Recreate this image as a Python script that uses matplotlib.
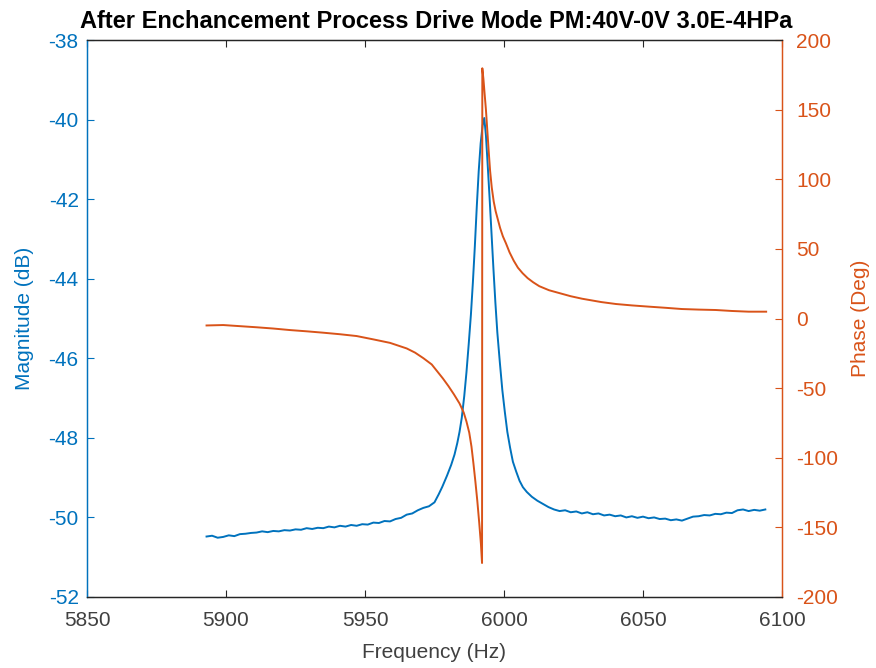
import matplotlib
matplotlib.use("Agg")
import matplotlib.pyplot as plt

plt.rcParams['font.family'] = ['Liberation Sans', 'DejaVu Sans']
plt.rcParams['axes.unicode_minus'] = False

# Magnitude response (dB) of the drive mode
freq_mag = [
    5893, 5895, 5897, 5899, 5901, 5903, 5905, 5907, 5909, 5911,
    5913, 5915, 5917, 5919, 5921, 5923, 5925, 5927, 5929, 5931,
    5933, 5935, 5937, 5939, 5941, 5943, 5945, 5947, 5949, 5951,
    5953, 5955, 5957, 5959, 5961, 5963, 5965, 5967, 5969, 5971,
    5973, 5975,
    5976.5, 5977.8, 5979.5, 5981.0, 5982.2, 5983.2, 5984.0, 5984.8, 5985.7, 5986.5,
    5987.3, 5988.1, 5988.8, 5989.5, 5990.2, 5990.9, 5991.6, 5992.3, 5992.9, 5993.5,
    5994.1, 5994.8, 5995.5, 5996.2, 5996.9, 5997.6, 5998.5, 5999.4, 6000.3, 6001.2,
    6002.2, 6003.2, 6004.4, 6005.6, 6006.8, 6008.2, 6010.0, 6012, 6014, 6016, 6018,
    6020, 6022, 6024, 6026, 6028, 6030, 6032, 6034, 6036, 6038,
    6040, 6042, 6044, 6046, 6048, 6050, 6052, 6054, 6056, 6058,
    6060, 6062, 6064, 6066, 6068, 6070, 6072, 6074, 6076, 6078,
    6080, 6082, 6084, 6086, 6088, 6090, 6092, 6094,
]
magnitude_db = [
    -50.48, -50.46, -50.51, -50.49, -50.45, -50.47, -50.42, -50.41, -50.39, -50.38,
    -50.35, -50.37, -50.34, -50.35, -50.32, -50.33, -50.30, -50.31, -50.27, -50.29,
    -50.26, -50.27, -50.23, -50.25, -50.21, -50.23, -50.19, -50.21, -50.17, -50.18,
    -50.13, -50.14, -50.09, -50.10, -50.04, -50.01, -49.93, -49.90, -49.82, -49.76,
    -49.72, -49.62,
    -49.42, -49.23, -48.95, -48.68, -48.42, -48.13, -47.85, -47.50, -46.95, -46.35,
    -45.65, -44.90, -44.10, -43.20, -42.20, -41.30, -40.60, -40.15, -39.96, -40.40,
    -41.10, -41.95, -42.85, -43.75, -44.60, -45.35, -46.10, -46.80, -47.35, -47.85,
    -48.25, -48.60, -48.85, -49.08, -49.24, -49.36, -49.48, -49.58, -49.66, -49.74, -49.80,
    -49.84, -49.82, -49.87, -49.85, -49.90, -49.87, -49.92, -49.90, -49.95, -49.93,
    -49.97, -49.95, -50.00, -49.97, -50.01, -49.98, -50.02, -50.00, -50.04, -50.03,
    -50.07, -50.05, -50.08, -50.03, -49.98, -49.97, -49.94, -49.95, -49.91, -49.92,
    -49.88, -49.89, -49.82, -49.80, -49.84, -49.81, -49.83, -49.80,
]

# Phase response (degrees); wraps from -180 to +180 at resonance
freq_phase = [
    5893, 5899, 5905, 5911, 5917, 5923, 5929, 5935, 5941, 5947,
    5953, 5959, 5965, 5968, 5971, 5974, 5976, 5978, 5980, 5982,
    5984, 5985.5, 5986.5, 5987.5, 5988.3, 5989.0, 5989.7, 5990.4, 5991.1, 5991.7,
    5992.1,
    5992.2, 5992.6, 5993.0, 5993.5, 5994.0, 5994.5, 5995.0, 5995.6, 5996.3, 5997.0,
    5997.8, 5998.6, 5999.6, 6000.7, 6002.0, 6003.5, 6005.0, 6006.7, 6008.5, 6010.5,
    6012.7, 6016.2, 6020, 6024, 6028.1, 6035, 6040.3, 6046, 6052.2, 6058,
    6064, 6070, 6076.2, 6082, 6088, 6094.3,
]
phase_deg = [
    -5.0, -4.7, -5.5, -6.3, -7.2, -8.3, -9.2, -10.2, -11.3, -12.6,
    -15.0, -17.5, -21.5, -24.5, -28.5, -33.0, -38.0, -43.0, -48.5, -54.5,
    -61.0, -67.5, -74.0, -82.0, -92.0, -104.0, -117.0, -131.0, -147.0, -162.0,
    -175.6,
    179.7, 172.0, 162.0, 150.0, 135.0, 120.0, 106.0, 94.0, 84.0, 77.0,
    71.0, 65.0, 59.0, 54.0, 47.5, 41.5, 36.5, 32.5, 29.0, 26.0,
    23.2, 20.3, 18.2, 16.0, 14.2, 11.8, 10.4, 9.4, 8.5, 7.7,
    6.8, 6.4, 6.1, 5.4, 4.9, 4.9,
]

x_ticks = [5850, 5900, 5950, 6000, 6050, 6100]
mag_ticks = [-52, -50, -48, -46, -44, -42, -40, -38]
phase_ticks = [-200, -150, -100, -50, 0, 50, 100, 150, 200]

BLUE = '#0072BD'
ORANGE = '#D95319'
DARK = '#262626'

fig = plt.figure(figsize=(8.76, 6.68), dpi=100)
ax = fig.add_axes([87 / 876, 1 - 597 / 668, 695 / 876, 557 / 668])
ax2 = ax.twinx()

ax.plot(freq_mag, magnitude_db, color=BLUE, lw=1.4)
ax2.plot(freq_phase, phase_deg, color=ORANGE, lw=1.4)

ax.set_xlim(5850, 6100)
ax.set_ylim(-52, -38)
ax2.set_ylim(-200, 200)
ax.set_xticks(x_ticks)
ax.set_yticks(mag_ticks)
ax2.set_yticks(phase_ticks)

tick_fs = 15
ax.tick_params(axis='x', direction='in', length=5, width=0.8, colors=DARK,
               labelcolor='#404040', labelsize=tick_fs, pad=10, top=True)
ax.tick_params(axis='y', direction='in', length=5, width=0.8, colors=BLUE,
               labelsize=tick_fs, pad=6)
ax2.tick_params(axis='y', direction='in', length=5, width=0.8, colors=ORANGE,
                labelsize=tick_fs, pad=10)

for a in (ax, ax2):
    a.spines['top'].set_color(DARK)
    a.spines['bottom'].set_color(DARK)
    a.spines['left'].set_color(BLUE)
    a.spines['right'].set_color(ORANGE)
    for s in a.spines.values():
        s.set_linewidth(0.9)

ax.set_xlabel('Frequency (Hz)', fontsize=15, color='#404040')
ax.set_ylabel('Magnitude (dB)', fontsize=15, color=BLUE)
ax2.set_ylabel('Phase (Deg)', fontsize=15, color=ORANGE, rotation=90)
ax.xaxis.set_label_coords(0.5, -0.082)
ax.yaxis.set_label_coords(-0.076, 0.5)
ax2.yaxis.set_label_coords(1.099, 0.5)

fig.text(436 / 876, 1 - 21 / 668,
         'After Enchancement Process Drive Mode PM:40V-0V 3.0E-4HPa',
         ha='center', va='center', fontsize=17, fontweight='bold', color='black')

fig.savefig('out.png', dpi=100)
